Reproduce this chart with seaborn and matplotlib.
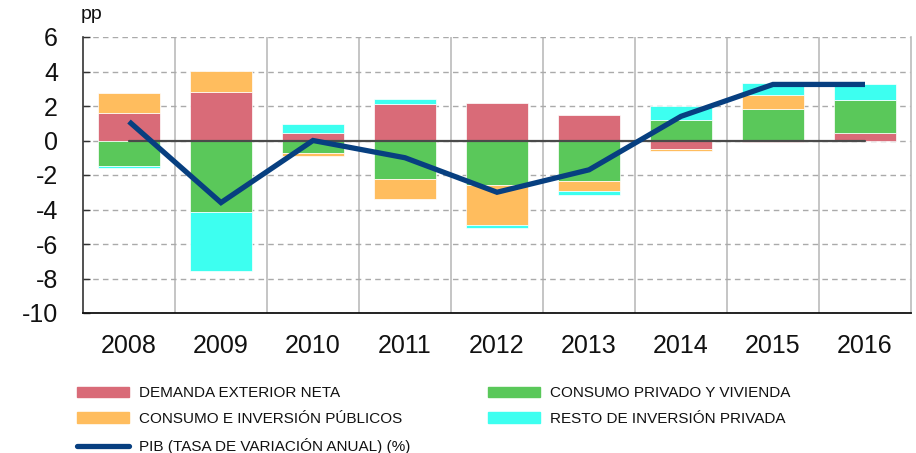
import matplotlib
matplotlib.use('Agg')
import matplotlib.pyplot as plt
from matplotlib.patches import Patch
from matplotlib.lines import Line2D
import numpy as np
import seaborn as sns

# contributions to GDP growth (pp)
years = ['2008', '2009', '2010', '2011', '2012', '2013', '2014', '2015', '2016']
demanda = [1.57, 2.80, 0.46, 2.09, 2.16, 1.47, -0.48, -0.10, 0.42]
privado = [-1.45, -4.13, -0.75, -2.26, -2.59, -2.32, 1.18, 1.80, 1.94]
publico = [1.17, 1.24, -0.15, -1.12, -2.28, -0.62, -0.14, 0.83, 0.0]
resto = [-0.15, -3.44, 0.47, 0.29, -0.23, -0.23, 0.81, 0.69, 0.89]
pib = [1.1, -3.6, 0.0, -1.0, -3.0, -1.7, 1.4, 3.25, 3.25]
zero_line = [0] * len(years)

lbl_dem = 'DEMANDA EXTERIOR NETA'
lbl_priv = 'CONSUMO PRIVADO Y VIVIENDA'
lbl_pub = 'CONSUMO E INVERSIÓN PÚBLICOS'
lbl_resto = 'RESTO DE INVERSIÓN PRIVADA'
lbl_pib = 'PIB (TASA DE VARIACIÓN ANUAL) (%)'

c_dem = '#D96B78'
c_priv = '#5AC85A'
c_pub = '#FFBD5E'
c_resto = '#3DFFF0'
c_pib = '#073F80'

sns.set_theme(style="white")
plt.rcParams['font.family'] = ['Liberation Sans', 'DejaVu Sans']
plt.rcParams['axes.unicode_minus'] = False

fig = plt.figure(figsize=(9.16, 4.53), dpi=100)
ax = fig.add_axes([83 / 916, 1 - 313 / 453, 828 / 916, 276 / 453])

# stacked bars: positives and negatives stack separately
series = [(demanda, c_dem), (privado, c_priv), (publico, c_pub), (resto, c_resto)]
pos_base = np.zeros(len(years))
neg_base = np.zeros(len(years))
for vals, color in series:
    vals = np.array(vals, dtype=float)
    bottom = np.where(vals >= 0, pos_base, neg_base)
    sns.barplot(x=years, y=vals, bottom=bottom, color=color, width=0.67,
                saturation=1, errorbar=None, edgecolor='white', linewidth=0.5,
                ax=ax, zorder=2)
    pos_base += np.clip(vals, 0, None)
    neg_base += np.clip(vals, None, 0)

sns.lineplot(x=years, y=zero_line, color='#4a4a4a', linewidth=1.6, ax=ax, zorder=3)
sns.lineplot(x=years, y=pib, color=c_pib, linewidth=3.8, ax=ax, zorder=4,
             solid_joinstyle='miter', solid_capstyle='butt')

ax.set_xlim(-0.5, 8.5)
ax.set_ylim(-10, 6)
ax.set_yticks(range(-10, 7, 2))
ax.set_xticks(range(len(years)))
ax.set_xticklabels(years)
ax.set_xticks(np.arange(0.5, len(years) - 1, 1), minor=True)
ax.set_xlabel('')
ax.set_ylabel('')

ax.tick_params(axis='x', which='major', length=0, pad=15, labelsize=18, labelcolor='#111')
ax.tick_params(axis='x', which='minor', direction='in', length=5, width=1, color='#333')
ax.tick_params(axis='y', direction='in', length=5, width=1, color='#333',
               pad=18, labelsize=18, labelcolor='#111', left=True)

ax.yaxis.grid(True, linestyle=(0, (4, 3)), color='#aaaaaa', linewidth=1)
ax.xaxis.grid(True, which='minor', color='#bbbbbb', linewidth=1.2)
ax.xaxis.grid(False, which='major')
ax.set_axisbelow(True)

ax.spines['top'].set_visible(False)
ax.spines['right'].set_color('#bbbbbb')
ax.spines['right'].set_linewidth(1.2)
ax.spines['left'].set_color('#333')
ax.spines['left'].set_linewidth(1.2)
ax.spines['bottom'].set_color('#111')
ax.spines['bottom'].set_linewidth(1.3)

fig.text(81 / 916, 1 - 19 / 453, 'pp', fontsize=14, ha='left', va='baseline', color='#111')

leg_font = {'family': ['Liberation Sans Narrow', 'Liberation Sans'], 'size': 11}
leg_kw = dict(loc='upper left', frameon=False, borderpad=0, borderaxespad=0,
              handlelength=3.4, handleheight=0.65, handletextpad=0.65,
              labelspacing=0.78, prop=leg_font, labelcolor='#111')

h1 = [Patch(color=c_dem), Patch(color=c_pub), Line2D([], [], color=c_pib, linewidth=3.8)]
fig.legend(h1, [lbl_dem, lbl_pub, lbl_pib], bbox_to_anchor=(77 / 916, 1 - 386 / 453), **leg_kw)
h2 = [Patch(color=c_priv), Patch(color=c_resto)]
fig.legend(h2, [lbl_priv, lbl_resto], bbox_to_anchor=(488 / 916, 1 - 386 / 453), **leg_kw)

fig.savefig('out.png', dpi=100)
